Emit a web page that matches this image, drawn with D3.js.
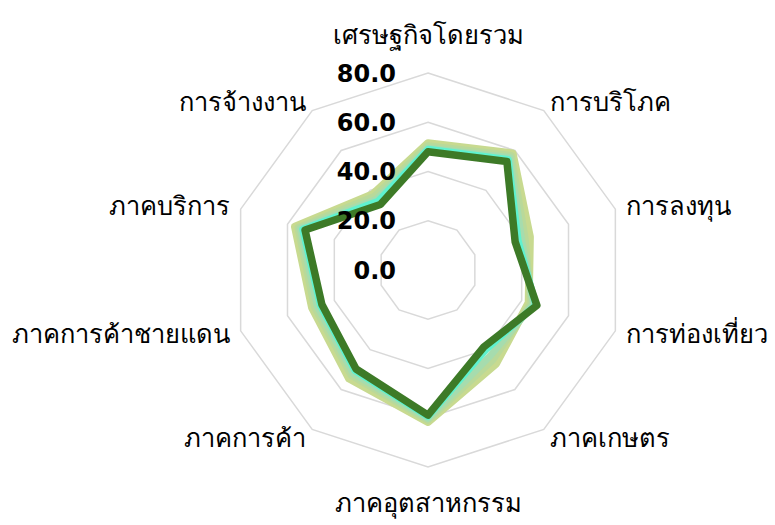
<!DOCTYPE html>
<html><head><meta charset="utf-8">
<script src="https://cdn.jsdelivr.net/npm/d3@7"></script>
<style>body{margin:0;background:#fff}svg{display:block}</style>
</head><body>
<svg id="c" width="775" height="525"></svg>
<script>
const categories = ["เศรษฐกิจโดยรวม","การบริโภค","การลงทุน","การท่องเที่ยว","ภาคเกษตร","ภาคอุตสาหกรรม","ภาคการค้า","ภาคการค้าชายแดน","ภาคบริการ","การจ้างงาน"];
const tickValues = [0,20,40,60,80];
const seriesA = [51.5,58.5,43.5,43.0,47.0,61.7,54.5,49.5,56.8,38.0];
const seriesB = [50.5,57.5,41.5,44.0,45.0,61.0,53.0,48.5,55.5,37.0];
const seriesC = [49.5,56.5,40.0,45.0,43.0,60.3,51.8,47.3,54.5,35.5];
const seriesD = [49.0,55.5,38.5,46.0,40.0,59.5,50.5,46.0,53.5,34.5];
const seriesE = [48.0,54.5,37.2,46.5,38.6,58.9,49.7,45.3,52.5,32.9];
const seriesList = [seriesA,seriesB,seriesC,seriesD,seriesE];
const colors = ["#c8da90","#b9d99a","#a6dcae","#5ff2cf","#3d7a27"];
const widths = [8,7,7,7,7.5];

const svg = d3.select("#c");
const cx = 428, cy = 270, R = 197;
const r = d3.scaleLinear().domain([0,80]).range([0,R]);
const ang = d3.scalePoint().domain(d3.range(categories.length)).range([0, 2*Math.PI*(1-1/categories.length)]);
const pt = (i,v)=>[cx + r(v)*Math.sin(ang(i)), cy - r(v)*Math.cos(ang(i))];

const g = svg.append("g");
tickValues.filter(t=>t>0).forEach(t=>{
  const pts = categories.map((c,i)=>pt(i,t));
  g.append("path").attr("d", d3.line().curve(d3.curveLinearClosed)(pts))
    .attr("fill","none").attr("stroke","#d9d9d9").attr("stroke-width",1.5);
});
seriesList.forEach((s,k)=>{
  const pts = s.map((v,i)=>pt(i,v));
  g.append("path").attr("d", d3.line().curve(d3.curveLinearClosed)(pts))
    .attr("fill","none").attr("stroke",colors[k]).attr("stroke-width",widths[k])
    .attr("stroke-linejoin","round");
});
tickValues.forEach(t=>{
  g.append("text").attr("x", cx-32).attr("y", cy - r(t)).attr("dy","0.36em")
    .attr("text-anchor","end").attr("font-family","DejaVu Sans, sans-serif")
    .attr("font-size",24).attr("font-weight","bold").attr("fill","#000")
    .text(d3.format(".1f")(t));
});
categories.forEach((c,i)=>{
  const a = ang(i);
  const s = Math.sin(a), co = Math.cos(a);
  const lr = 208;
  let x = cx + lr*s, y = cy - lr*co;
  let anchor = Math.abs(s)<0.01 ? "middle" : (s>0 ? "start":"end");
  if (Math.abs(s)<0.01) y += (co>0 ? -27 : 25);
  g.append("text").attr("x",x).attr("y",y).attr("dy","0.35em")
    .attr("text-anchor",anchor).attr("font-family","Noto Sans, sans-serif")
    .attr("font-size",25.5).attr("fill","#000").text(c);
});
</script>
</body></html>
